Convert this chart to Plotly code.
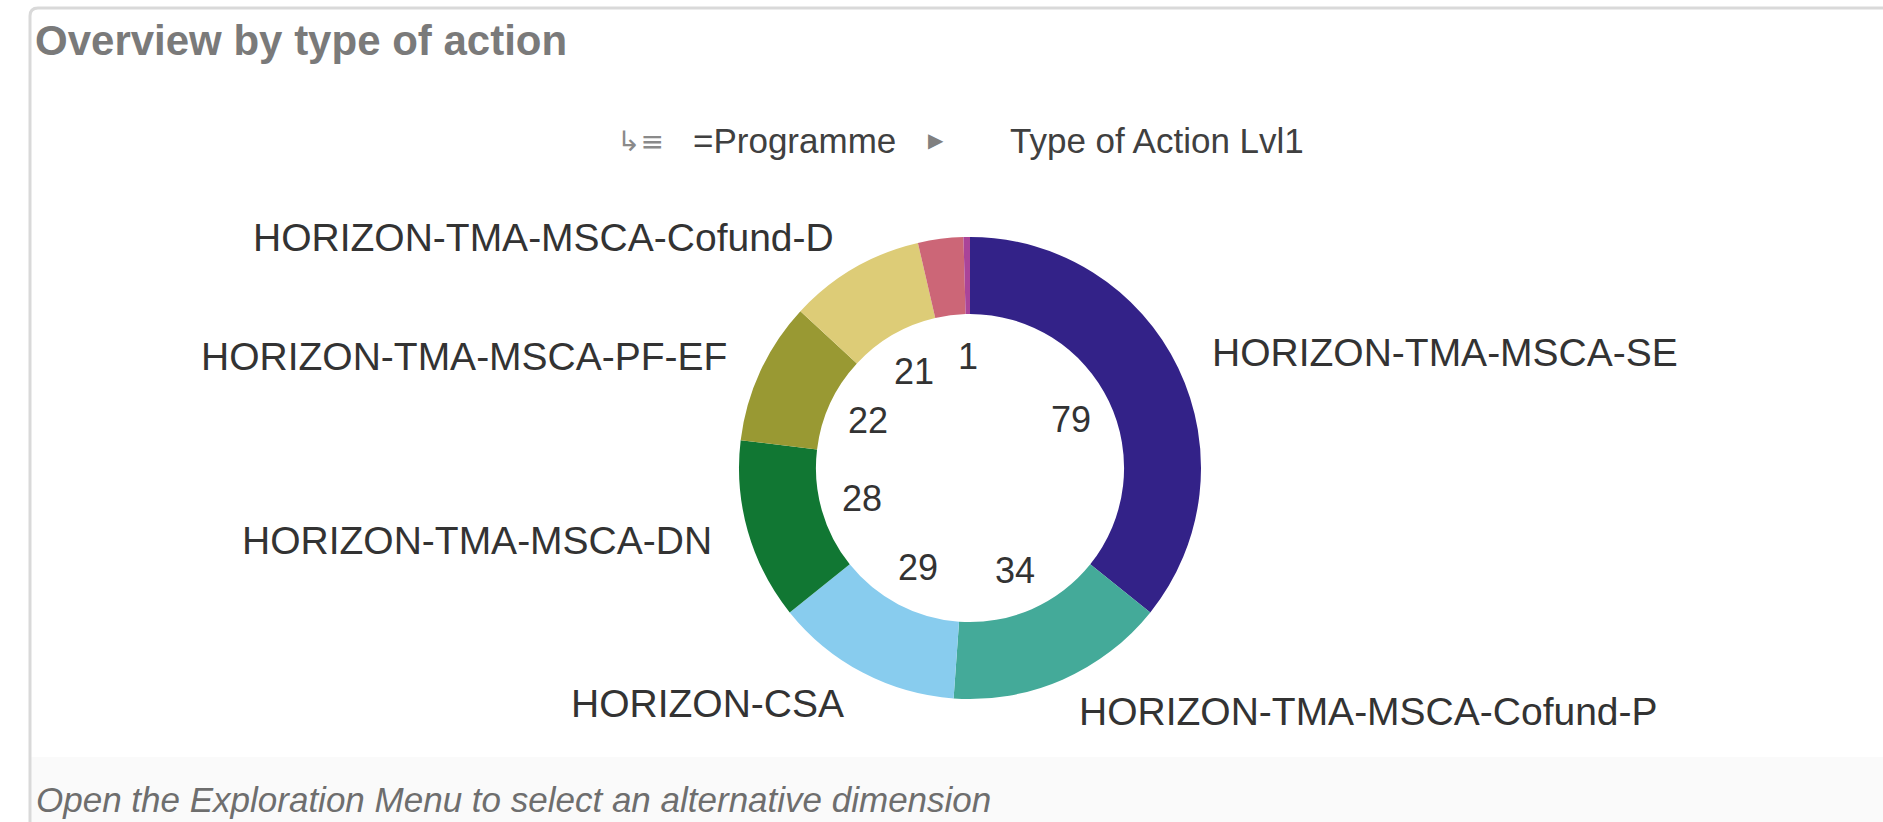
import math
import plotly.graph_objects as go

# ---- data ----
categories = [
    "HORIZON-TMA-MSCA-SE",
    "HORIZON-TMA-MSCA-Cofund-P",
    "HORIZON-CSA",
    "HORIZON-TMA-MSCA-DN",
    "HORIZON-TMA-MSCA-PF-EF",
    "HORIZON-TMA-MSCA-Cofund-D",
    "Other",
    "Other (small)",
]
values = [79, 34, 29, 28, 22, 21, 7, 1]
show_outer_label = [True, True, True, True, True, True, False, False]
show_value_label = [True, True, True, True, True, True, False, True]
colors = ["#332288", "#44AA99", "#88CCEE", "#117733", "#999933", "#DDCC77", "#CC6677", "#AA4499"]

title_text = "Overview by type of action"
drill_first = "=Programme"
drill_second = "Type of Action Lvl1"
footer_text = "Open the Exploration Menu to select an alternative dimension"

# ---- layout geometry (pixels) ----
W, H = 1883, 822
cx, cy, R = 970, 468, 231
hole = 0.667
outer_r = 266
inner_r = 112
FONT = "Liberation Sans, Arial, sans-serif"


def px(x):
    return x / W


def py(y):
    return 1 - y / H


fig = go.Figure(
    go.Pie(
        labels=categories,
        values=values,
        sort=False,
        direction="clockwise",
        rotation=0,
        hole=hole,
        marker=dict(colors=colors, line=dict(width=0)),
        textinfo="none",
        hoverinfo="label+value",
        domain=dict(x=[px(cx - R), px(cx + R)], y=[py(cy + R), py(cy - R)]),
        showlegend=False,
    )
)

annotations = []
total = sum(values)
cum = 0
for cat, v, so, sv in zip(categories, values, show_outer_label, show_value_label):
    mid = (cum + v / 2) / total * 2 * math.pi
    cum += v
    s, c = math.sin(mid), math.cos(mid)
    if so:
        x = cx + outer_r * s
        y = cy - outer_r * c
        annotations.append(dict(
            x=px(x), y=py(y), xref="paper", yref="paper", text=cat, showarrow=False,
            xanchor="left" if s > 0 else "right", yanchor="middle",
            font=dict(family=FONT, size=39, color="#333333"),
        ))
    if sv:
        x = cx + inner_r * s
        y = cy - inner_r * c
        annotations.append(dict(
            x=px(x), y=py(y), xref="paper", yref="paper", text=str(v), showarrow=False,
            xanchor="center", yanchor="middle",
            font=dict(family=FONT, size=36, color="#333333"),
        ))

# title
annotations.append(dict(
    x=px(33), y=py(40), xref="paper", yref="paper", text="<b>" + title_text + "</b>",
    showarrow=False, xanchor="left", yanchor="middle",
    font=dict(family=FONT, size=42, color="#7a7a7a"),
))
# drill-down path
annotations.append(dict(
    x=px(640), y=py(141), xref="paper", yref="paper", text="↳≡", showarrow=False,
    xanchor="center", yanchor="middle", font=dict(family="DejaVu Sans", size=28, color="#8a8a8a"),
))
annotations.append(dict(
    x=px(691), y=py(140), xref="paper", yref="paper", text=drill_first, showarrow=False,
    xanchor="left", yanchor="middle", font=dict(family=FONT, size=35, color="#404040"),
))
annotations.append(dict(
    x=px(936), y=py(140), xref="paper", yref="paper", text="▶", showarrow=False,
    xanchor="center", yanchor="middle", font=dict(family="DejaVu Sans", size=20, color="#808080"),
))
annotations.append(dict(
    x=px(1008), y=py(140), xref="paper", yref="paper", text=drill_second, showarrow=False,
    xanchor="left", yanchor="middle", font=dict(family=FONT, size=35, color="#404040"),
))
# footer
annotations.append(dict(
    x=px(34), y=py(799), xref="paper", yref="paper", text="<i>" + footer_text + "</i>",
    showarrow=False, xanchor="left", yanchor="middle",
    font=dict(family=FONT, size=35, color="#6e6e6e"),
))

shapes = [
    dict(type="rect", xref="paper", yref="paper", x0=px(31), x1=1, y0=0, y1=py(757),
         fillcolor="#fafafa", line=dict(width=0), layer="below"),
    dict(type="path", xref="paper", yref="paper",
         path=f"M {px(30)},{py(822)} L {px(30)},{py(16)} Q {px(30)},{py(8)} {px(38)},{py(8)} L 1,{py(8)}",
         line=dict(color="#d9d9d9", width=3)),
]

fig.update_layout(
    width=W, height=H,
    margin=dict(l=0, r=0, t=0, b=0),
    paper_bgcolor="white", plot_bgcolor="white",
    annotations=annotations, shapes=shapes,
)

fig.write_html("out.html", config={"displayModeBar": False},
               post_script="document.body.style.margin='0';")
